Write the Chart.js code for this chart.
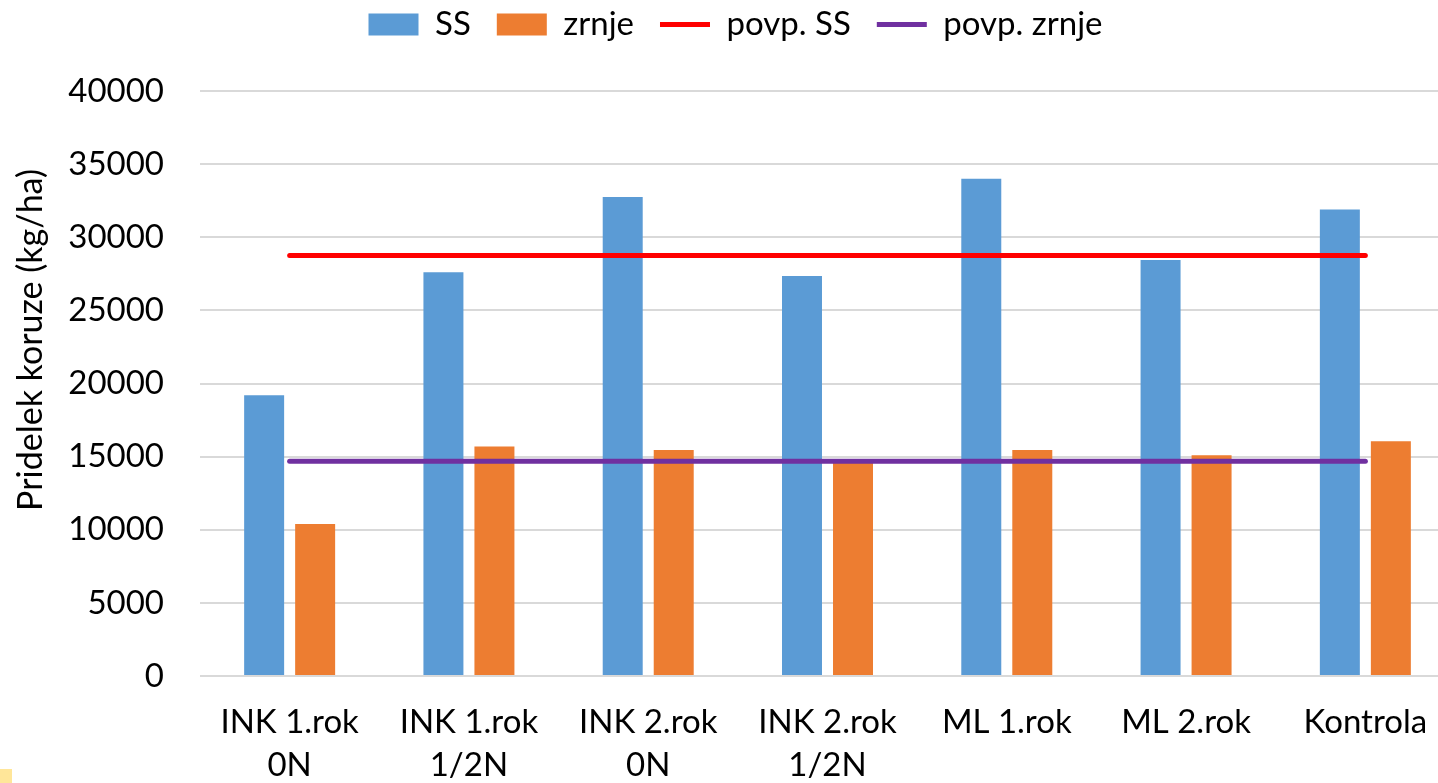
<!DOCTYPE html>
<html>
<head>
<meta charset="utf-8">
<title>Pridelek koruze</title>
<script src="https://cdn.jsdelivr.net/npm/chart.js@4/dist/chart.umd.min.js"></script>
<style>
  html, body { margin: 0; padding: 0; background: #ffffff; overflow: hidden; }
  #wrap { position: relative; width: 1460px; height: 783px; }
  #corner { position: absolute; left: 0; top: 769px; width: 12px; height: 14px; background: #FFE699; }
</style>
</head>
<body>
<div id="wrap"><canvas id="chart"></canvas></div>
<div id="corner"></div>
<script>
// Treatments (x-axis categories, multi-line labels)
const categories = [
  ['INK 1.rok', '0N'],
  ['INK 1.rok', '1/2N'],
  ['INK 2.rok', '0N'],
  ['INK 2.rok', '1/2N'],
  ['ML 1.rok'],
  ['ML 2.rok'],
  ['Kontrola']
];

// Yield in kg/ha
const ssValues    = [19200, 27600, 32750, 27350, 34000, 28450, 31900];
const zrnjeValues = [10400, 15700, 15450, 14600, 15450, 15100, 16050];

// Mean levels drawn as horizontal lines
const povpSS    = [28750, 28750, 28750, 28750, 28750, 28750, 28750];
const povpZrnje = [14680, 14680, 14680, 14680, 14680, 14680, 14680];

// Y axis tick labels
const yTickLabels = ['0', '5000', '10000', '15000', '20000', '25000', '30000', '35000', '40000'];

const FONT = 'Lato, "Liberation Sans", sans-serif';

// Fixed legend band height and position tweaks
const legendBand = {
  id: 'legendBand',
  beforeInit(chart) {
    const fit = chart.legend.fit;
    chart.legend.fit = function () {
      fit.call(this);
      this.height = 91;
    };
  },
  afterLayout(chart) {
    const lg = chart.legend;
    lg.top -= 18;
    lg.bottom -= 18;
    lg.left += 8;
    lg.right += 8;
  }
};

new Chart(document.getElementById('chart'), {
  type: 'bar',
  data: {
    labels: categories,
    datasets: [
      {
        label: 'SS',
        data: ssValues,
        backgroundColor: '#5B9BD5',
        pointStyle: 'rect',
        order: 1,
        categoryPercentage: 0.569,
        barPercentage: 0.784
      },
      {
        label: 'zrnje',
        data: zrnjeValues,
        backgroundColor: '#ED7D31',
        pointStyle: 'rect',
        order: 1,
        categoryPercentage: 0.569,
        barPercentage: 0.784
      },
      {
        type: 'line',
        label: 'povp. SS',
        data: povpSS,
        borderColor: '#FF0000',
        backgroundColor: '#FF0000',
        borderWidth: 5,
        borderCapStyle: 'round',
        pointRadius: 0,
        pointHoverRadius: 0,
        pointStyle: 'line',
        fill: false,
        order: 0
      },
      {
        type: 'line',
        label: 'povp. zrnje',
        data: povpZrnje,
        borderColor: '#7030A0',
        backgroundColor: '#7030A0',
        borderWidth: 5,
        borderCapStyle: 'round',
        pointRadius: 0,
        pointHoverRadius: 0,
        pointStyle: 'line',
        fill: false,
        order: 0
      }
    ]
  },
  options: {
    responsive: true,
    maintainAspectRatio: false,
    animation: false,
    layout: { padding: { left: 0, right: 5, top: 0, bottom: 0 } },
    plugins: {
      tooltip: { enabled: false },
      legend: {
        position: 'top',
        labels: {
          usePointStyle: true,
          pointStyleWidth: 50,
          boxHeight: 22,
          padding: 26,
          color: '#000000',
          font: { family: FONT, size: 33 },
          sort: (a, b) => a.datasetIndex - b.datasetIndex
        }
      }
    },
    scales: {
      x: {
        offset: true,
        grid: { display: false, drawTicks: false },
        border: { display: false },
        ticks: {
          color: '#000000',
          padding: 25,
          maxRotation: 0,
          autoSkip: false,
          font: { family: FONT, size: 33, lineHeight: 1.3 }
        },
        afterFit(scale) { scale.height = 107; }
      },
      y: {
        min: 0,
        max: 40000,
        grid: { color: '#D9D9D9', lineWidth: 2, drawTicks: false },
        border: { display: false },
        ticks: {
          stepSize: 5000,
          padding: 36,
          color: '#000000',
          font: { family: FONT, size: 33 },
          callback: (v, i) => yTickLabels[i]
        },
        title: {
          display: true,
          text: ' '.repeat(10) + 'Pridelek koruze (kg/ha)',
          color: '#000000',
          font: { family: FONT, size: 34 },
          padding: { top: 11, bottom: 0 }
        },
        afterFit(scale) { scale.width = 200; }
      }
    }
  },
  plugins: [legendBand]
});
</script>
</body>
</html>
